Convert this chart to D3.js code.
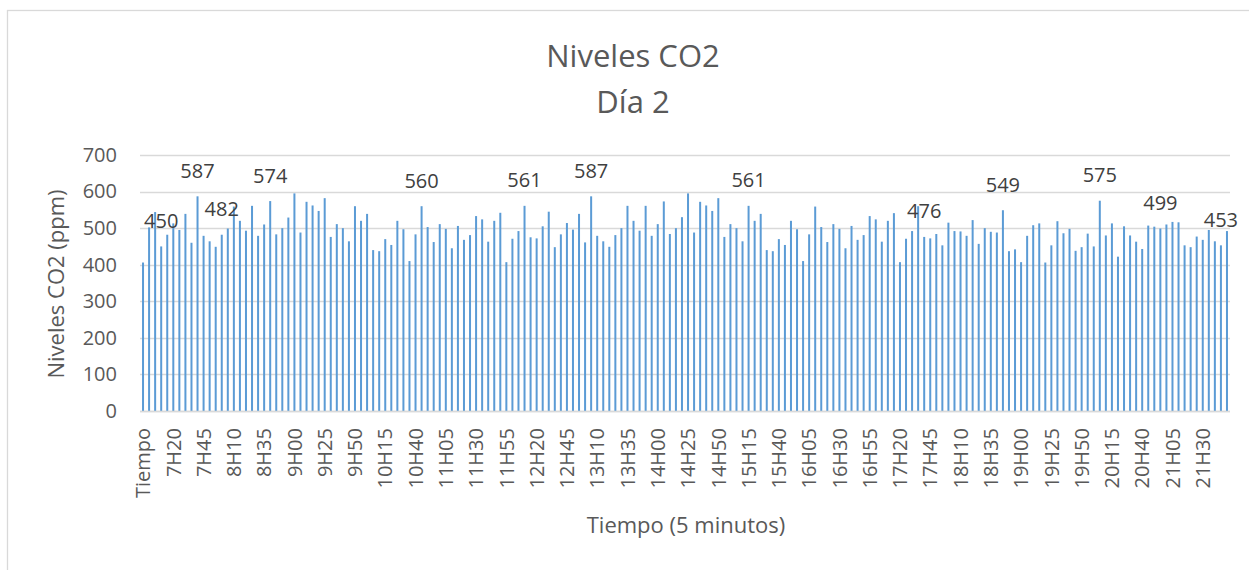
<!DOCTYPE html>
<html>
<head>
<meta charset="utf-8">
<script src="https://cdn.jsdelivr.net/npm/d3@7/dist/d3.min.js"></script>
<style>
  html, body { margin: 0; padding: 0; background: #ffffff; }
  svg { display: block; font-family: "Open Sans", "Noto Sans", sans-serif; }
</style>
</head>
<body>
<svg id="chart" width="1249" height="570"></svg>
<script>
// Time slots (5-minute readings), first entry is the header cell
const categories = [
  "Tiempo",
  "7H00","7H05","7H10","7H15","7H20","7H25","7H30","7H35","7H40","7H45","7H50","7H55",
  "8H00","8H05","8H10","8H15","8H20","8H25","8H30","8H35","8H40","8H45","8H50","8H55",
  "9H00","9H05","9H10","9H15","9H20","9H25","9H30","9H35","9H40","9H45","9H50","9H55",
  "10H00","10H05","10H10","10H15","10H20","10H25","10H30","10H35","10H40","10H45","10H50","10H55",
  "11H00","11H05","11H10","11H15","11H20","11H25","11H30","11H35","11H40","11H45","11H50","11H55",
  "12H00","12H05","12H10","12H15","12H20","12H25","12H30","12H35","12H40","12H45","12H50","12H55",
  "13H00","13H05","13H10","13H15","13H20","13H25","13H30","13H35","13H40","13H45","13H50","13H55",
  "14H00","14H05","14H10","14H15","14H20","14H25","14H30","14H35","14H40","14H45","14H50","14H55",
  "15H00","15H05","15H10","15H15","15H20","15H25","15H30","15H35","15H40","15H45","15H50","15H55",
  "16H00","16H05","16H10","16H15","16H20","16H25","16H30","16H35","16H40","16H45","16H50","16H55",
  "17H00","17H05","17H10","17H15","17H20","17H25","17H30","17H35","17H40","17H45","17H50","17H55",
  "18H00","18H05","18H10","18H15","18H20","18H25","18H30","18H35","18H40","18H45","18H50","18H55",
  "19H00","19H05","19H10","19H15","19H20","19H25","19H30","19H35","19H40","19H45","19H50","19H55",
  "20H00","20H05","20H10","20H15","20H20","20H25","20H30","20H35","20H40","20H45","20H50","20H55",
  "21H00","21H05","21H10","21H15","21H20","21H25","21H30","21H35","21H40","21H45","21H50"
];

// CO2 level (ppm) for each slot
const co2 = [
  406,502,544,450,482,513,495,539,460,587,479,464,449,482,499,559,520,493,561,479,510,574,483,500,529,595,488,572,562,547,
  582,476,511,500,464,560,520,539,440,437,470,454,520,497,410,483,560,503,462,511,498,445,506,468,481,533,524,463,520,542,
  407,471,492,561,475,472,505,545,448,483,514,496,539,461,587,479,464,449,481,500,561,520,493,561,479,511,573,484,500,530,
  595,488,572,562,547,582,476,511,500,464,561,520,539,440,437,470,454,520,497,410,483,559,503,462,511,498,445,506,468,481,
  533,524,463,520,541,407,471,492,560,476,472,484,453,515,492,491,479,522,457,500,490,488,549,437,442,407,479,508,513,406,
  453,519,486,498,438,448,485,450,575,480,513,422,505,480,463,443,507,504,499,510,517,516,453,448,477,468,495,464,453,492
];

// Slots that carry a value label
const labeledSlots = ["7H10","7H40","8H00","8H40","10H45","12H10","13H05","15H15","17H40","18H45","20H05","20H55","21H45"];

// Axis tick labels
const yTicks = [0, 100, 200, 300, 400, 500, 600, 700];
const xTickLabels = categories.filter((d, i) => i % 5 === 0);

const titleLines = ["Niveles CO2", "Día 2"];
const yTitle = "Niveles CO2 (ppm)";
const xTitle = "Tiempo (5 minutos)";

const data = categories.map((c, i) => ({ slot: c, value: co2[i] }));

const svg = d3.select("#chart");
const plot = { left: 140, right: 1230, top: 155, bottom: 411 };
const gridColor = "#d9d9d9";
const textColor = "#595959";

// chart area frame
svg.append("rect")
  .attr("x", 7.5).attr("y", 10.5)
  .attr("width", 1270).attr("height", 600)
  .attr("fill", "#ffffff")
  .attr("stroke", gridColor).attr("stroke-width", 1.3);

const gap = 1 - 2 / ((plot.right - plot.left) / categories.length);
const x = d3.scaleBand()
  .domain(categories)
  .range([plot.left, plot.right])
  .paddingInner(gap)
  .paddingOuter(gap / 2);

const y = d3.scaleLinear()
  .domain([0, 700])
  .range([plot.bottom, plot.top]);

// horizontal gridlines
svg.append("g")
  .selectAll("line")
  .data(yTicks)
  .join("line")
  .attr("x1", plot.left).attr("x2", plot.right)
  .attr("y1", d => Math.round(y(d)) + 0.5).attr("y2", d => Math.round(y(d)) + 0.5)
  .attr("stroke", gridColor).attr("stroke-width", 1.3);

// bars
svg.append("g")
  .selectAll("rect")
  .data(data)
  .join("rect")
  .attr("x", d => x(d.slot))
  .attr("width", x.bandwidth())
  .attr("y", d => y(d.value))
  .attr("height", d => y(0) - y(d.value))
  .attr("fill", "#5b9bd5");

// value labels
svg.append("g")
  .selectAll("text")
  .data(data.filter(d => labeledSlots.includes(d.slot)))
  .join("text")
  .attr("x", d => x(d.slot) + x.bandwidth() / 2)
  .attr("y", d => y(d.value) - 18.5)
  .attr("text-anchor", "middle")
  .attr("font-size", 20)
  .attr("fill", "#404040")
  .text(d => d.value);

// y axis
const yAxis = svg.append("g")
  .attr("transform", `translate(${plot.left},0)`)
  .call(d3.axisLeft(y).tickValues(yTicks).tickSize(0).tickPadding(23).tickFormat(d3.format("d")));
yAxis.select(".domain").remove();
yAxis.selectAll("text")
  .attr("font-size", 20)
  .attr("font-family", "'Open Sans', 'Noto Sans', sans-serif")
  .attr("fill", textColor);

// x axis
const xAxis = svg.append("g")
  .attr("transform", `translate(0,${plot.bottom})`)
  .call(d3.axisBottom(x).tickValues(xTickLabels).tickSize(0));
xAxis.select(".domain").remove();
xAxis.selectAll("text")
  .attr("transform", "rotate(-90)")
  .attr("text-anchor", "end")
  .attr("x", -17)
  .attr("y", 0)
  .attr("dy", "0.36em")
  .attr("font-size", 20)
  .attr("font-family", "'Open Sans', 'Noto Sans', sans-serif")
  .attr("fill", textColor);

// baseline
svg.append("line")
  .attr("x1", plot.left).attr("x2", plot.right)
  .attr("y1", plot.bottom + 0.5).attr("y2", plot.bottom + 0.5)
  .attr("stroke", gridColor).attr("stroke-width", 1.3);

// chart title
svg.append("g")
  .selectAll("text")
  .data(titleLines)
  .join("text")
  .attr("x", 633)
  .attr("y", (d, i) => 67 + i * 46)
  .attr("text-anchor", "middle")
  .attr("font-size", 31)
  .attr("fill", textColor)
  .text(d => d);

// axis titles
svg.append("text")
  .attr("transform", "translate(64,284) rotate(-90)")
  .attr("text-anchor", "middle")
  .attr("font-size", 22)
  .attr("fill", textColor)
  .text(yTitle);

svg.append("text")
  .attr("x", 686)
  .attr("y", 533)
  .attr("text-anchor", "middle")
  .attr("font-size", 22)
  .attr("fill", textColor)
  .text(xTitle);
</script>
</body>
</html>
